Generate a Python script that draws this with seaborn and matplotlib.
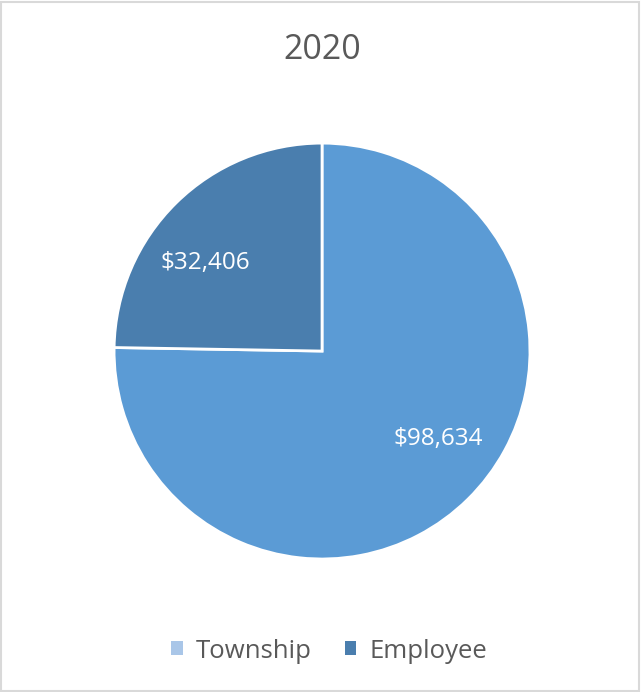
import matplotlib
matplotlib.use("Agg")
import matplotlib.pyplot as plt
from matplotlib.patches import Patch, Rectangle
import numpy as np
import seaborn as sns

# Data
categories = ["Township", "Employee"]
values = [98634, 32406]
title = "2020"

slice_colors = ["#5B9BD5", "#4A7EAE"]
legend_colors = ["#A9C6E8", "#4A7EAE"]

sns.set_theme(style="white")
plt.rcParams["font.family"] = ["Open Sans", "DejaVu Sans"]

fig = plt.figure(figsize=(6.42, 6.92), dpi=100)
fig.patch.set_facecolor("white")

# light frame round the chart area
fig.add_artist(Rectangle((0.002, 0.002), 0.994, 0.995, transform=fig.transFigure,
                         fill=False, edgecolor="#D9D9D9", linewidth=1.5))

ax = fig.add_axes([0.1776, 0.1922, 0.648, 0.601])
wedges, _ = ax.pie(values, colors=slice_colors, startangle=90, counterclock=False,
                   radius=1.0, wedgeprops=dict(edgecolor="white", linewidth=2.0))
ax.set_xlim(-1.0, 1.0)
ax.set_ylim(-1.0, 1.0)
ax.set_aspect("equal")
ax.axis("off")

# value labels inside each slice
for w, v in zip(wedges, values):
    ang = np.deg2rad((w.theta1 + w.theta2) / 2 + 8.5)
    r = 0.70
    ax.text(r * np.cos(ang), r * np.sin(ang), f"${v:,}", ha="center", va="center",
            color="white", fontsize=17.5)

fig.text(0.5016, 1 - 50 / 692, title, ha="center", va="center", fontsize=24.5, color="#595959")

handles = [Patch(facecolor=c, edgecolor="none") for c in legend_colors]
fig.legend(handles, categories, loc="center", bbox_to_anchor=(0.5125, 1 - 651 / 692),
           ncol=2, frameon=False, fontsize=18.5, labelcolor="#595959",
           handlelength=0.45, handleheight=0.45, handletextpad=0.5, columnspacing=1.3)

fig.savefig("out.png", dpi=100, facecolor="white")
